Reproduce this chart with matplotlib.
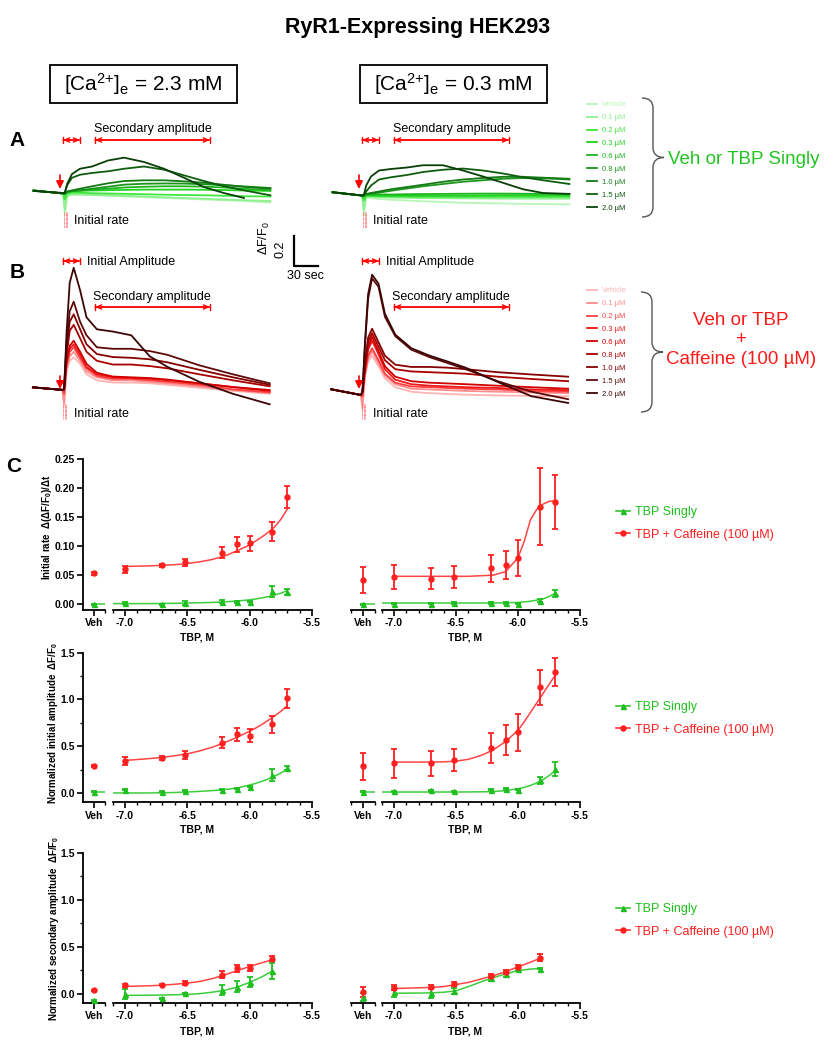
import numpy as np
import matplotlib.pyplot as plt
from matplotlib.path import Path
from matplotlib.patches import PathPatch, Rectangle
from matplotlib.lines import Line2D

plt.rcParams['font.family'] = ['Liberation Sans', 'DejaVu Sans']
plt.rcParams['mathtext.fontset'] = 'custom'
plt.rcParams['mathtext.rm'] = 'Liberation Sans'
plt.rcParams['mathtext.it'] = 'Liberation Sans:italic'
plt.rcParams['mathtext.bf'] = 'Liberation Sans:bold'

# ---------------- data: traces (dF/F0 vs time after stimulus, s) ----------------
DOSES = ['Vehicle', '0.1 µM', '0.2 µM', '0.3 µM', '0.6 µM', '0.8 µM', '1.0 µM', '1.5 µM', '2.0 µM']
GREENS = ['#b8f5b8', '#8ef08e', '#3ee63e', '#22d222', '#1db41d', '#1a961a', '#157a15', '#0f5c0f', '#0a3f0a']
REDS = ['#ffb3b3', '#ff8c8c', '#ff4040', '#f01818', '#d00000', '#a80000', '#850000', '#5e0a0a', '#3c0606']

T_A = [-38, -1, 1, 4, 10, 20, 35, 55, 75, 100, 125, 150, 175, 200, 225, 258]
A_HI = [
    [0.01, -0.01, -0.15, -0.03, -0.02, -0.02, -0.02, -0.025, -0.03, -0.035, -0.04, -0.045, -0.05, -0.055, -0.06, -0.07],
    [0.01, -0.01, -0.12, -0.02, -0.015, -0.015, -0.02, -0.02, -0.025, -0.03, -0.035, -0.04, -0.045, -0.05, -0.055, -0.06],
    [0.01, -0.01, -0.05, -0.01, -0.005, -0.005, -0.008, -0.01, -0.012, -0.015, -0.018, -0.02, -0.022, -0.025, -0.028, -0.03],
    [0.01, -0.01, -0.02, 0.0, 0.005, 0.008, 0.01, 0.012, 0.014, 0.016, 0.016, 0.016, 0.015, 0.013, 0.01, 0.007],
    [0.01, -0.01, -0.01, 0.0, 0.005, 0.01, 0.015, 0.022, 0.03, 0.035, 0.038, 0.038, 0.036, 0.03, 0.022, 0.012],
    [0.01, -0.01, -0.01, 0.002, 0.007, 0.012, 0.022, 0.035, 0.049, 0.055, 0.057, 0.056, 0.052, 0.045, 0.037, 0.027],
    [0.01, -0.01, -0.01, 0.003, 0.011, 0.022, 0.038, 0.058, 0.073, 0.078, 0.078, 0.071, 0.062, 0.048, 0.035, 0.022],
    [0.007, -0.007, -0.005, 0.045, 0.095, 0.115, 0.127, 0.138, 0.155, 0.17, 0.149, 0.111, 0.073, 0.038, 0.011, -0.022],
    [0.007, -0.007, -0.005, 0.055, 0.12, 0.155, 0.17, 0.21, 0.229, 0.2, 0.155, 0.095, 0.033, -0.007, -0.04, np.nan],
]
A_LO = [
    [0.015, -0.007, -0.14, -0.02, -0.025, -0.03, -0.035, -0.04, -0.045, -0.05, -0.055, -0.058, -0.06, -0.062, -0.064, -0.066],
    [0.015, -0.007, -0.10, -0.015, -0.015, -0.018, -0.02, -0.022, -0.024, -0.025, -0.026, -0.027, -0.028, -0.028, -0.028, -0.028],
    [0.015, -0.007, -0.04, -0.01, -0.01, -0.012, -0.013, -0.014, -0.015, -0.015, -0.016, -0.016, -0.016, -0.016, -0.016, -0.016],
    [0.015, -0.007, -0.02, -0.005, -0.005, -0.006, -0.007, -0.008, -0.008, -0.008, -0.007, -0.006, -0.005, -0.005, -0.005, -0.005],
    [0.015, -0.007, -0.01, 0.0, 0.0, 0.0, 0.0, 0.002, 0.003, 0.004, 0.005, 0.006, 0.006, 0.005, 0.004, 0.002],
    [0.015, -0.007, -0.005, 0.003, 0.006, 0.012, 0.025, 0.04, 0.055, 0.07, 0.085, 0.095, 0.105, 0.11, 0.108, 0.10],
    [0.015, -0.007, -0.005, 0.004, 0.01, 0.02, 0.035, 0.05, 0.065, 0.085, 0.10, 0.11, 0.118, 0.118, 0.112, 0.105],
    [0.015, -0.007, -0.005, 0.02, 0.06, 0.10, 0.115, 0.13, 0.15, 0.165, 0.173, 0.16, 0.14, 0.115, 0.095, 0.07],
    [0.015, -0.007, -0.005, 0.06, 0.12, 0.16, 0.17, 0.18, 0.195, 0.195, 0.16, 0.12, 0.078, 0.035, 0.01, 0.004],
]

T_B = [-38, -1, 1, 4, 8, 13, 21, 29, 42, 62, 85, 108, 130, 170, 212, 258]
B_HI = [
    [0.013, -0.004, -0.11, 0.12, 0.19, 0.213, 0.17, 0.10, 0.06, 0.045, 0.045, 0.04, 0.03, 0.01, -0.01, -0.03],
    [0.013, -0.004, -0.09, 0.14, 0.22, 0.25, 0.19, 0.12, 0.08, 0.06, 0.06, 0.05, 0.04, 0.02, -0.005, -0.025],
    [0.013, -0.004, -0.03, 0.16, 0.25, 0.28, 0.21, 0.14, 0.09, 0.07, 0.07, 0.06, 0.05, 0.03, 0.0, -0.02],
    [0.013, -0.004, 0.0, 0.17, 0.27, 0.30, 0.23, 0.15, 0.10, 0.08, 0.075, 0.07, 0.06, 0.04, 0.015, -0.012],
    [0.013, -0.004, 0.0, 0.18, 0.29, 0.324, 0.25, 0.17, 0.11, 0.085, 0.08, 0.075, 0.065, 0.04, 0.015, -0.005],
    [0.013, -0.004, 0.0, 0.22, 0.39, 0.43, 0.34, 0.25, 0.19, 0.165, 0.165, 0.155, 0.14, 0.10, 0.06, 0.02],
    [0.013, -0.004, 0.0, 0.26, 0.45, 0.50, 0.40, 0.30, 0.235, 0.215, 0.21, 0.20, 0.18, 0.13, 0.08, 0.03],
    [0.013, -0.004, 0.0, 0.30, 0.52, 0.584, 0.45, 0.36, 0.28, 0.27, 0.27, 0.255, 0.23, 0.16, 0.10, 0.04],
    [0.013, -0.004, 0.0, 0.37, 0.71, 0.81, 0.66, 0.48, 0.40, 0.385, 0.36, 0.22, 0.15, 0.05, -0.03, -0.10],
]
B_LO = [
    [0.016, -0.022, -0.12, 0.10, 0.20, 0.24, 0.17, 0.09, 0.03, 0.0, -0.01, -0.015, -0.02, -0.025, -0.028, -0.03],
    [0.016, -0.022, -0.09, 0.11, 0.22, 0.27, 0.19, 0.11, 0.05, 0.02, 0.015, 0.01, 0.005, 0.0, -0.005, -0.01],
    [0.016, -0.022, -0.03, 0.12, 0.24, 0.29, 0.21, 0.12, 0.06, 0.035, 0.03, 0.025, 0.02, 0.015, 0.005, 0.0],
    [0.016, -0.022, 0.0, 0.14, 0.28, 0.34, 0.25, 0.15, 0.08, 0.05, 0.04, 0.035, 0.03, 0.025, 0.015, 0.01],
    [0.016, -0.022, 0.0, 0.15, 0.30, 0.365, 0.27, 0.17, 0.10, 0.07, 0.06, 0.055, 0.05, 0.04, 0.03, 0.02],
    [0.016, -0.022, 0.0, 0.17, 0.33, 0.39, 0.30, 0.21, 0.15, 0.135, 0.13, 0.125, 0.12, 0.10, 0.085, 0.07],
    [0.016, -0.022, 0.0, 0.18, 0.36, 0.42, 0.33, 0.24, 0.18, 0.165, 0.165, 0.16, 0.15, 0.13, 0.115, 0.10],
    [0.016, -0.022, 0.0, 0.30, 0.62, 0.755, 0.70, 0.50, 0.37, 0.28, 0.23, 0.19, 0.15, 0.07, 0.0, -0.05],
    [0.016, -0.022, 0.0, 0.32, 0.65, 0.78, 0.72, 0.52, 0.38, 0.29, 0.24, 0.20, 0.16, 0.065, -0.03, -0.075],
]

# ---------------- data: dose-response (log[TBP], M) ----------------
LOG_TBP = [-7.0, -6.70, -6.52, -6.22, -6.10, -6.00, -5.82, -5.70]
FIT_X = [-7.1, -7.0, -6.9, -6.8, -6.7, -6.6, -6.5, -6.4, -6.3, -6.2, -6.1, -6.0, -5.95, -5.9, -5.85, -5.8, -5.75, -5.7]
FIT_X_SEC = [-7.0, -6.9, -6.8, -6.7, -6.6, -6.5, -6.4, -6.3, -6.2, -6.1, -6.0, -5.9, -5.82]
nan = np.nan

# initial rate, 2.3 mM
RATE_HI_TBP = [0.002, 0.0, 0.002, 0.0045, 0.004, 0.0045, 0.022, 0.021]
RATE_HI_TBP_SEM = [0.001, 0.001, 0.003, 0.003, 0.002, 0.001, 0.009, 0.005]
RATE_HI_CAF = [0.0598, 0.0667, 0.0718, 0.089, 0.103, 0.1046, 0.1247, 0.184]
RATE_HI_CAF_SEM = [0.006, 0.002, 0.006, 0.010, 0.013, 0.013, 0.016, 0.019]
RATE_HI_VEH = [0.0, 0.053]
RATE_HI_VEH_SEM = [0.001, 0.003]
RATE_HI_FIT_TBP = [0.001, 0.001, 0.001, 0.001, 0.0012, 0.0015, 0.002, 0.0025, 0.003, 0.004, 0.0055, 0.0075, 0.009, 0.011, 0.013, 0.016, 0.019, 0.023]
RATE_HI_FIT_CAF = [nan, 0.065, 0.0655, 0.066, 0.067, 0.068, 0.070, 0.073, 0.077, 0.083, 0.092, 0.102, 0.109, 0.116, 0.124, 0.133, 0.146, 0.163]

# initial rate, 0.3 mM
RATE_LO_TBP = [0.001, 0.001, 0.002, 0.002, 0.002, 0.001, 0.006, 0.019]
RATE_LO_TBP_SEM = [0.001, 0.001, 0.001, 0.001, 0.001, 0.001, 0.003, 0.006]
RATE_LO_CAF = [0.047, 0.044, 0.047, 0.0615, 0.067, 0.080, 0.168, 0.176]
RATE_LO_CAF_SEM = [0.02, 0.018, 0.019, 0.023, 0.024, 0.031, 0.066, 0.047]
RATE_LO_VEH = [0.0, 0.042]
RATE_LO_VEH_SEM = [0.001, 0.022]
RATE_LO_FIT_TBP = [0.002, 0.002, 0.002, 0.002, 0.002, 0.002, 0.002, 0.002, 0.002, 0.002, 0.0025, 0.003, 0.004, 0.005, 0.007, 0.009, 0.013, 0.019]
RATE_LO_FIT_CAF = [nan, 0.048, 0.048, 0.048, 0.048, 0.048, 0.048, 0.048, 0.049, 0.050, 0.056, 0.080, 0.108, 0.145, 0.163, 0.172, 0.177, 0.178]

# normalized initial amplitude, 2.3 mM
AMP_HI_TBP = [0.035, 0.011, 0.025, 0.035, 0.046, 0.064, 0.19, 0.266]
AMP_HI_TBP_SEM = [0.005, 0.005, 0.005, 0.005, 0.005, 0.005, 0.067, 0.02]
AMP_HI_CAF = [0.344, 0.372, 0.408, 0.539, 0.628, 0.613, 0.734, 1.011]
AMP_HI_CAF_SEM = [0.04, 0.02, 0.045, 0.062, 0.07, 0.07, 0.094, 0.106]
AMP_HI_VEH = [0.014, 0.284]
AMP_HI_VEH_SEM = [0.005, 0.01]
AMP_HI_FIT_TBP = [0.0, 0.0, 0.0, 0.0, 0.002, 0.005, 0.01, 0.017, 0.025, 0.036, 0.053, 0.085, 0.103, 0.125, 0.15, 0.18, 0.213, 0.25]
AMP_HI_FIT_CAF = [nan, 0.348, 0.358, 0.368, 0.38, 0.398, 0.418, 0.45, 0.489, 0.539, 0.596, 0.66, 0.695, 0.734, 0.778, 0.823, 0.873, 0.929]

# normalized initial amplitude, 0.3 mM
AMP_LO_TBP = [0.02, 0.028, 0.018, 0.035, 0.043, 0.035, 0.135, 0.255]
AMP_LO_TBP_SEM = [0.005, 0.005, 0.005, 0.005, 0.005, 0.005, 0.035, 0.076]
AMP_LO_CAF = [0.319, 0.319, 0.355, 0.479, 0.567, 0.649, 1.128, 1.294]
AMP_LO_CAF_SEM = [0.155, 0.133, 0.117, 0.16, 0.156, 0.2, 0.19, 0.15]
AMP_LO_VEH = [0.014, 0.284]
AMP_LO_VEH_SEM = [0.005, 0.142]
AMP_LO_FIT_TBP = [0.01, 0.01, 0.01, 0.01, 0.01, 0.01, 0.01, 0.011, 0.012, 0.015, 0.025, 0.045, 0.06, 0.08, 0.107, 0.14, 0.185, 0.24]
AMP_LO_FIT_CAF = [nan, 0.33, 0.33, 0.33, 0.33, 0.333, 0.34, 0.36, 0.40, 0.46, 0.55, 0.67, 0.76, 0.86, 0.96, 1.06, 1.16, 1.26]

# normalized secondary amplitude, 2.3 mM (no 2.0 µM point)
SEC_HI_TBP = [-0.005, -0.05, 0.004, 0.039, 0.074, 0.124, 0.241]
SEC_HI_TBP_SEM = [0.055, 0.005, 0.005, 0.058, 0.058, 0.05, 0.083]
SEC_HI_CAF = [0.089, 0.096, 0.113, 0.202, 0.27, 0.273, 0.372]
SEC_HI_CAF_SEM = [0.015, 0.008, 0.02, 0.035, 0.04, 0.035, 0.028]
SEC_HI_VEH = [-0.071, 0.035]
SEC_HI_VEH_SEM = [0.005, 0.005]
SEC_HI_FIT_TBP = [-0.018, -0.018, -0.017, -0.015, -0.012, -0.008, 0.0, 0.015, 0.035, 0.07, 0.12, 0.18, 0.24]
SEC_HI_FIT_CAF = [0.077, 0.080, 0.084, 0.09, 0.10, 0.112, 0.13, 0.16, 0.20, 0.245, 0.29, 0.33, 0.36]

# normalized secondary amplitude, 0.3 mM
SEC_LO_TBP = [0.018, 0.01, 0.028, 0.163, 0.205, 0.259, 0.266]
SEC_LO_TBP_SEM = [0.05, 0.053, 0.03, 0.025, 0.028, 0.01, 0.005]
SEC_LO_CAF = [0.064, 0.071, 0.099, 0.188, 0.234, 0.287, 0.383]
SEC_LO_CAF_SEM = [0.03, 0.02, 0.02, 0.025, 0.02, 0.015, 0.035]
SEC_LO_VEH = [-0.035, 0.018]
SEC_LO_VEH_SEM = [0.04, 0.055]
SEC_LO_FIT_TBP = [0.005, 0.005, 0.006, 0.008, 0.015, 0.03, 0.075, 0.125, 0.17, 0.21, 0.245, 0.262, 0.268]
SEC_LO_FIT_CAF = [0.055, 0.058, 0.062, 0.066, 0.075, 0.097, 0.12, 0.155, 0.19, 0.235, 0.285, 0.335, 0.378]

YLABELS = [r'Initial rate  Δ(ΔF/F$_\mathbf{0}$)/Δt',
           r'Normalized initial amplitude  ΔF/F$_\mathbf{0}$',
           r'Normalized secondary amplitude  ΔF/F$_\mathbf{0}$']

GREEN = '#1fbf1f'
GREEN_FIT = '#3ccd3c'
RED = '#ff1f1f'
RED_FIT = '#ff4444'

# ---------------- figure ----------------
W, H = 835, 1050
fig = plt.figure(figsize=(W / 100, H / 100), dpi=100)


def px_axes(x0, y0, x1, y1):
    return fig.add_axes([x0 / W, 1 - y1 / H, (x1 - x0) / W, (y1 - y0) / H])


# ---- traces ----
PX_S, PX_U = 0.8, 150.0


def trace_axes(stim_x, base_y, x0, x1, y0, y1):
    ax = px_axes(x0, y0, x1, y1)
    ax.set_xlim((x0 - stim_x) / PX_S, (x1 - stim_x) / PX_S)
    ax.set_ylim((base_y - y1) / PX_U, (base_y - y0) / PX_U)
    ax.axis('off')
    return ax


ax_a1 = trace_axes(64, 192, 28, 275, 105, 235)
ax_a2 = trace_axes(363, 194.5, 328, 575, 105, 235)
ax_b1 = trace_axes(63.3, 389.3, 28, 275, 240, 430)
ax_b2 = trace_axes(361.7, 391.7, 328, 575, 240, 430)

for ax, t, traces, cols in [(ax_a1, T_A, A_HI, GREENS), (ax_a2, T_A, A_LO, GREENS),
                            (ax_b1, T_B, B_HI, REDS), (ax_b2, T_B, B_LO, REDS)]:
    for vals, c, lab in zip(traces, cols, DOSES):
        ax.plot(t, vals, color=c, lw=1.3, label=lab)

# scale bar: 30 s x 0.2 dF/F0
ax_sb = px_axes(294, 235.5, 294 + 30 * PX_S, 235.5 + 0.2 * PX_U)
ax_sb.set_xlim(0, 30)
ax_sb.set_ylim(0, 0.2)
ax_sb.axis('off')
ax_sb.plot([0, 0, 30], [0.2, 0, 0], color='black', lw=1.6, clip_on=False)

# ---- dose-response panels ----
ROW_Y = [(459, 610), (652.7, 802.3), (853, 1003)]
COL_X = [((83, 105), (112.5, 312)), ((351, 375), (381.6, 580))]
YLIMS = [(-0.01, 0.25), (-0.1, 1.5), (-0.1, 1.5)]
YTICKS = [[0.0, 0.05, 0.10, 0.15, 0.20, 0.25], [0.0, 0.5, 1.0, 1.5], [0.0, 0.5, 1.0, 1.5]]
YFMT = ['{:.2f}', '{:.1f}', '{:.1f}']
XLAB_Y = [637, 830, 1031]


def dose_axes(row, col):
    top, bot = ROW_Y[row]
    (vx0, vx1), (mx0, mx1) = COL_X[col]
    axv = px_axes(vx0, top, vx1, bot)
    axm = px_axes(mx0, top, mx1, bot)
    for ax in (axv, axm):
        ax.set_ylim(*YLIMS[row])
        ax.patch.set_visible(False)
        ax.spines['top'].set_visible(False)
        ax.spines['right'].set_visible(False)
        ax.spines['bottom'].set_linewidth(1.3)
        ax.spines['left'].set_linewidth(1.3)
        ax.tick_params(axis='x', which='major', length=4, width=1.2, labelsize=7.5, pad=2)
        ax.tick_params(axis='x', which='minor', length=2.5, width=1.0)
    axm.spines['left'].set_visible(False)
    axm.set_yticks([])
    if col == 0:
        axv.set_yticks(YTICKS[row])
        axv.set_yticklabels([YFMT[row].format(v) for v in YTICKS[row]])
        if row > 0:
            axv.set_yticks([0.25, 0.75, 1.25], minor=True)
        axv.tick_params(axis='y', which='major', length=4, width=1.2, labelsize=7.5, pad=2)
        axv.tick_params(axis='y', which='minor', length=2.5, width=1.0)
    else:
        axv.spines['left'].set_visible(False)
        axv.set_yticks([])
    axv.set_xlim(-1, 1)
    axv.set_xticks([0])
    axv.set_xticklabels(['Veh'])
    axv.set_xticks([-1, 1] if col else [1], minor=True)
    axm.set_xlim(-7.1, -5.5)
    axm.set_xticks([-7.0, -6.5, -6.0, -5.5])
    axm.set_xticklabels(['-7.0', '-6.5', '-6.0', '-5.5'])
    axm.set_xticks(np.round(np.arange(-7.1, -5.55, 0.1), 2), minor=True)
    for ax in (axv, axm):
        for lab in ax.get_xticklabels() + ax.get_yticklabels():
            lab.set_fontweight('bold')
    return axv, axm


def draw_dose(row, col, x, tbp, tbp_sem, caf, caf_sem, veh, veh_sem, fit_x, fit_tbp, fit_caf, stub):
    axv, axm = dose_axes(row, col)
    kw = dict(linestyle='none', ms=3.6, elinewidth=1.3, capsize=2.2, capthick=1.3, clip_on=False, zorder=3)
    axm.plot(fit_x, fit_tbp, color=GREEN_FIT, lw=1.1)
    axm.plot(fit_x, fit_caf, color=RED_FIT, lw=1.1)
    axm.errorbar(x, tbp, yerr=tbp_sem, marker='^', color=GREEN, **kw)
    axm.errorbar(x, caf, yerr=caf_sem, marker='o', color=RED, **kw)
    axv.errorbar([0], [veh[0]], yerr=[veh_sem[0]], marker='^', color=GREEN, **kw)
    axv.errorbar([0], [veh[1]], yerr=[veh_sem[1]], marker='o', color=RED, **kw)
    if stub:
        axv.plot([0, 1], [veh[0], veh[0]], color=GREEN_FIT, lw=1.1)
    return axm


n7 = LOG_TBP[:7]
panels = [
    (0, 0, LOG_TBP, RATE_HI_TBP, RATE_HI_TBP_SEM, RATE_HI_CAF, RATE_HI_CAF_SEM, RATE_HI_VEH, RATE_HI_VEH_SEM,
     FIT_X, RATE_HI_FIT_TBP, RATE_HI_FIT_CAF, True),
    (0, 1, LOG_TBP, RATE_LO_TBP, RATE_LO_TBP_SEM, RATE_LO_CAF, RATE_LO_CAF_SEM, RATE_LO_VEH, RATE_LO_VEH_SEM,
     FIT_X, RATE_LO_FIT_TBP, RATE_LO_FIT_CAF, True),
    (1, 0, LOG_TBP, AMP_HI_TBP, AMP_HI_TBP_SEM, AMP_HI_CAF, AMP_HI_CAF_SEM, AMP_HI_VEH, AMP_HI_VEH_SEM,
     FIT_X, AMP_HI_FIT_TBP, AMP_HI_FIT_CAF, True),
    (1, 1, LOG_TBP, AMP_LO_TBP, AMP_LO_TBP_SEM, AMP_LO_CAF, AMP_LO_CAF_SEM, AMP_LO_VEH, AMP_LO_VEH_SEM,
     FIT_X, AMP_LO_FIT_TBP, AMP_LO_FIT_CAF, True),
    (2, 0, n7, SEC_HI_TBP, SEC_HI_TBP_SEM, SEC_HI_CAF, SEC_HI_CAF_SEM, SEC_HI_VEH, SEC_HI_VEH_SEM,
     FIT_X_SEC, SEC_HI_FIT_TBP, SEC_HI_FIT_CAF, False),
    (2, 1, n7, SEC_LO_TBP, SEC_LO_TBP_SEM, SEC_LO_CAF, SEC_LO_CAF_SEM, SEC_LO_VEH, SEC_LO_VEH_SEM,
     FIT_X_SEC, SEC_LO_FIT_TBP, SEC_LO_FIT_CAF, False),
]
for p in panels:
    draw_dose(*p)

# ---------------- overlay: labels and decorations (pixel coords) ----------------
ov = fig.add_axes([0, 0, 1, 1], zorder=10)
ov.set_xlim(0, W)
ov.set_ylim(H, 0)
ov.axis('off')
ov.patch.set_visible(False)

ov.text(418, 28, 'RyR1-Expressing HEK293', ha='center', va='center', fontsize=15.5, fontweight='bold')
for x0, lab in [(50, '2.3'), (360, '0.3')]:
    ov.add_patch(Rectangle((x0, 65), 187, 38, fill=False, ec='black', lw=1.3))
    ov.text(x0 + 93.5, 84, r'[Ca$^{2{+}}$]$_\mathregular{e}$ = ' + lab + ' mM', ha='center', va='center',
            fontsize=15)

for x, y, s in [(17, 140, 'A'), (17, 273, 'B'), (14, 466, 'C')]:
    ov.text(x, y, s, ha='center', va='center', fontsize=15, fontweight='bold')


def span(x0, x1, y):
    ov.annotate('', xy=(x1, y), xytext=(x0, y),
                arrowprops=dict(arrowstyle='|-|,widthA=0.25,widthB=0.25', color='red', lw=1.0,
                                shrinkA=0, shrinkB=0))
    ov.annotate('', xy=(x1, y), xytext=(x0, y),
                arrowprops=dict(arrowstyle='<->,head_length=0.35,head_width=0.15', color='red', lw=1.0,
                                shrinkA=0, shrinkB=0))


def stim(x, y0, y1, dx, dy0, dy1):
    ov.annotate('', xy=(x, y1), xytext=(x, y0),
                arrowprops=dict(arrowstyle='-|>,head_length=0.45,head_width=0.22', color='red', lw=1.2,
                                shrinkA=0, shrinkB=0))
    for k in range(3):
        ov.plot([dx + 1.6 * k, dx + 1.6 * k], [dy0, dy1], color='#ff5555', lw=0.6, ls=(0, (1, 0.6)))


TXT = dict(fontsize=9, va='center')
for off in (0, 299):
    # panel A
    span(63 + off, 80 + off, 140)
    span(95 + off, 210 + off, 140)
    ov.text(153 + off, 129, 'Secondary amplitude', ha='center', **TXT)
    stim(60 + off, 175, 189, 64 + off, 212, 228)
    ov.text(74 + off, 221, 'Initial rate', ha='left', **TXT)
    # panel B
    span(63 + off, 80 + off, 261)
    ov.text(87 + off, 262, 'Initial Amplitude', ha='left', **TXT)
    span(95 + off, 210 + off, 307)
    ov.text(152 + off, 297, 'Secondary amplitude', ha='center', **TXT)
    stim(60 + off, 376, 389, 63 + off, 404, 419)
    ov.text(74 + off, 414, 'Initial rate', ha='left', **TXT)

# scale bar labels
ov.text(305, 276, '30 sec', ha='center', va='center', fontsize=9)
ov.text(281, 249, '0.2', ha='center', va='center', fontsize=9, rotation=90)
ov.text(264, 238, r'ΔF/F$_0$', ha='center', va='center', fontsize=9, rotation=90)


def brace(x, y0, y1, w):
    ym, r = (y0 + y1) / 2, 10
    xm = x + w / 2
    verts = [(x, y0), (xm, y0), (xm, y0 + r), (xm, ym - r), (xm, ym), (x + w, ym),
             (xm, ym), (xm, ym + r), (xm, y1 - r), (xm, y1), (x, y1)]
    codes = [Path.MOVETO, Path.CURVE3, Path.CURVE3, Path.LINETO, Path.CURVE3, Path.CURVE3,
             Path.CURVE3, Path.CURVE3, Path.LINETO, Path.CURVE3, Path.CURVE3]
    ov.add_patch(PathPatch(Path(verts, codes), fill=False, ec='#555555', lw=1.0))


brace(642, 98, 217, 22)
brace(641, 292, 412, 22)
ov.text(668, 159, 'Veh or TBP Singly', ha='left', va='center', fontsize=13.5, color='#22c422')
ov.text(741, 340, 'Veh or TBP\n+\nCaffeine (100 µM)', ha='center', va='center', fontsize=13.5,
        color='#ff1a1a', linespacing=1.2, multialignment='center')

# dose legends for traces
for ax, top in [(ax_a2, 101), (ax_b2, 287)]:
    h, l = ax.get_legend_handles_labels()
    fig.legend(h, l, loc='upper left', bbox_to_anchor=(587 / W, 1 - top / H), frameon=False,
               fontsize=5.5, handlelength=1.3, handletextpad=0.6, labelspacing=0.73,
               borderpad=0, borderaxespad=0, labelcolor='linecolor')

# axis titles
for r in range(3):
    for xc in (197.5, 465.5):
        ov.text(xc, XLAB_Y[r], 'TBP, M', ha='center', va='center', fontsize=7.5, fontweight='bold')
ov.text(47, 527, YLABELS[0], ha='center', va='center', fontsize=7, fontweight='bold', rotation=90)
ov.text(53, 723, YLABELS[1], ha='center', va='center', fontsize=7, fontweight='bold', rotation=90)
ov.text(54, 928, YLABELS[2], ha='center', va='center', fontsize=7, fontweight='bold', rotation=90)

# series legends
leg_h = [Line2D([], [], color=GREEN, marker='^', ms=3.6, lw=1.1),
         Line2D([], [], color=RED, marker='o', ms=3.6, lw=1.1)]
leg_l = ['TBP Singly', 'TBP + Caffeine (100 µM)']
for top in (506, 701, 903):
    fig.legend(leg_h, leg_l, loc='upper left', bbox_to_anchor=(616 / W, 1 - top / H), frameon=False,
               fontsize=9, handlelength=1.1, handletextpad=0.4, labelspacing=0.86,
               borderpad=0, borderaxespad=0, labelcolor='linecolor')

fig.savefig('out.png', dpi=100)
